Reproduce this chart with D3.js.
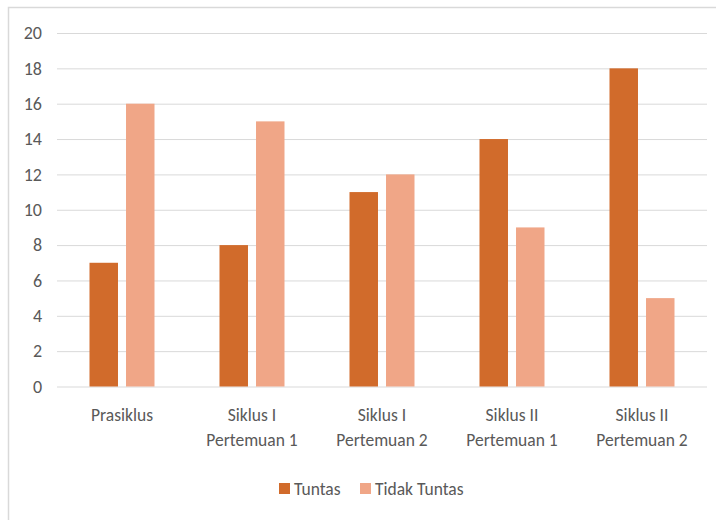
<!DOCTYPE html>
<html>
<head>
<meta charset="utf-8">
<script src="https://cdn.jsdelivr.net/npm/d3@7"></script>
<style>
  html, body { margin: 0; padding: 0; background: #fff; }
  svg text { font-family: Carlito, Lato, sans-serif; fill: #595959; }
</style>
</head>
<body>
<svg id="chart" width="716" height="520"></svg>
<script>
// Category labels (two lines each) and the two series
const categories = [
  ["Prasiklus"],
  ["Siklus I", "Pertemuan 1"],
  ["Siklus I", "Pertemuan 2"],
  ["Siklus II", "Pertemuan 1"],
  ["Siklus II", "Pertemuan 2"]
];
const seriesNames = ["Tuntas", "Tidak Tuntas"];
const tuntas = [7, 8, 11, 14, 18];
const tidakTuntas = [16, 15, 12, 9, 5];
const yTicks = [0, 2, 4, 6, 8, 10, 12, 14, 16, 18, 20];
const colors = ["#D16B2B", "#F0A687"];

const svg = d3.select("#chart");
const W = 716, H = 520;
const margin = { left: 57, right: 9, top: 33, bottom: 133 };

// Chart frame
svg.append("rect").attr("x", 8.5).attr("y", 7.5).attr("width", W + 10).attr("height", H)
  .attr("fill", "none").attr("stroke", "#d9d9d9").attr("stroke-width", 1.5);

const x0 = d3.scaleBand().domain(d3.range(categories.length))
  .range([margin.left, W - margin.right]).paddingInner(0).paddingOuter(0);
const x1 = d3.scaleBand().domain(seriesNames).range([0, x0.bandwidth()])
  .paddingInner(0.22).paddingOuter(0.89);
const y = d3.scaleLinear().domain([0, 20]).range([H - margin.bottom - 0.5, margin.top]);

// Gridlines and y tick labels
const yAxis = d3.axisLeft(y).tickValues(yTicks).tickSize(-(W - margin.left - margin.right)).tickPadding(15);
const gy = svg.append("g").attr("transform", `translate(${margin.left},0)`).call(yAxis);
gy.select(".domain").remove();
gy.selectAll(".tick line").attr("stroke", "#d9d9d9").attr("stroke-width", 1);
gy.selectAll(".tick text").attr("font-size", 18).attr("fill", "#595959");

// Bars
const data = categories.map((c, i) => [
  { key: seriesNames[0], value: tuntas[i] },
  { key: seriesNames[1], value: tidakTuntas[i] }
]);
svg.append("g").selectAll("g").data(data).join("g")
  .attr("transform", (d, i) => `translate(${x0(i)},0)`)
  .selectAll("rect").data(d => d).join("rect")
  .attr("x", d => x1(d.key))
  .attr("width", x1.bandwidth())
  .attr("y", d => y(d.value))
  .attr("height", d => y(0) - y(d.value))
  .attr("fill", (d, i) => colors[i]);

// Category labels
const gx = svg.append("g");
categories.forEach((lines, i) => {
  const cx = x0(i) + x0.bandwidth() / 2;
  const t = gx.append("text").attr("text-anchor", "middle")
    .attr("x", cx).attr("y", 421).attr("font-size", 17.5);
  lines.forEach((ln, j) => t.append("tspan")
    .attr("x", cx).attr("dy", j === 0 ? 0 : 25).text(ln));
});

// Legend
const legend = svg.append("g");
const lx = [279, 360];
seriesNames.forEach((name, i) => {
  legend.append("rect").attr("x", lx[i]).attr("y", 483).attr("width", 11).attr("height", 11).attr("fill", colors[i]);
  legend.append("text").attr("x", lx[i] + 15).attr("y", 495).attr("font-size", 17.5).text(name);
});
</script>
</body>
</html>
